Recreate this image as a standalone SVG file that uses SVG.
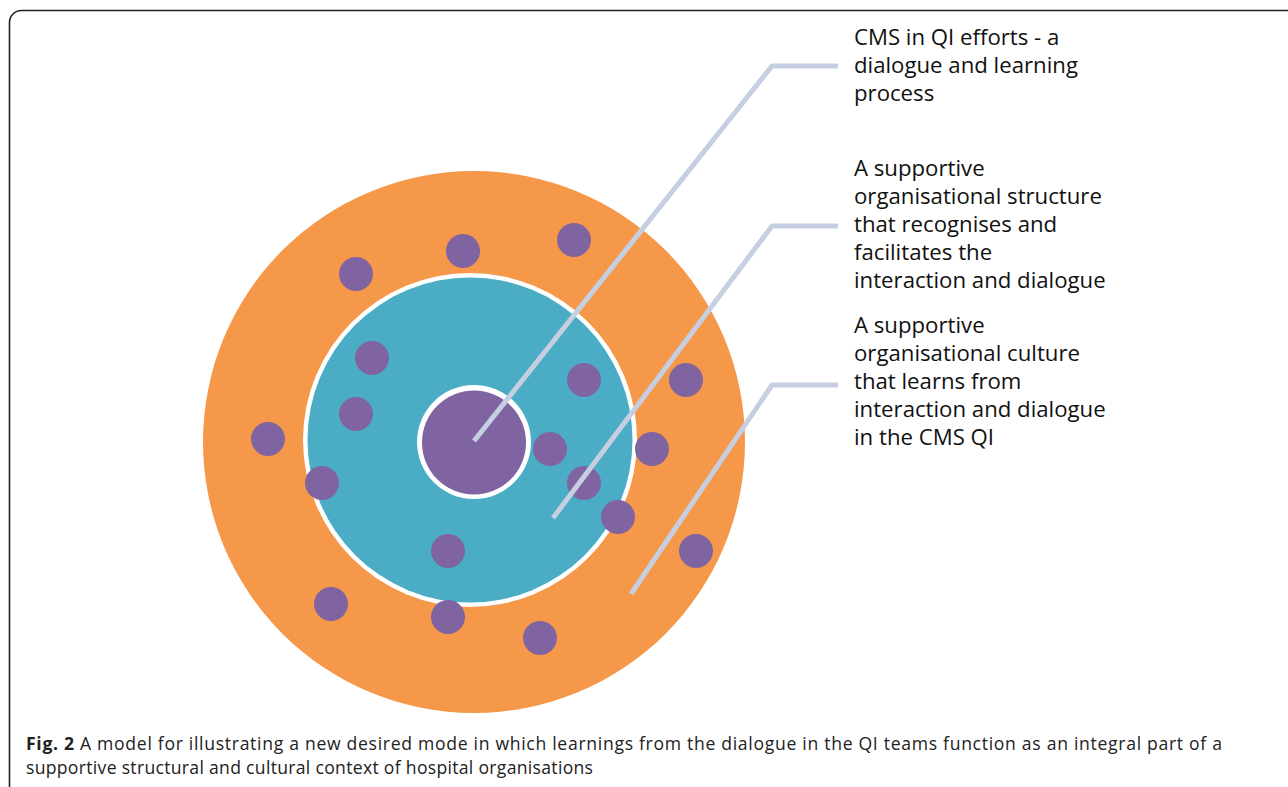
<svg xmlns="http://www.w3.org/2000/svg" width="1288" height="787" viewBox="0 0 1288 787">
<style>
.dot{fill:#8064A2}
.lbl{font-family:"Open Sans","Liberation Sans",sans-serif;font-size:22.2px;fill:#111}
.cap{font-family:"Open Sans","Liberation Sans",sans-serif;font-size:17.6px;fill:#222}
.con{fill:none;stroke:#C5CFE1;stroke-width:5;stroke-linejoin:miter}
</style>
<rect x="0" y="0" width="1288" height="787" fill="#fff"/>
<rect id="frame" x="9.5" y="10.5" width="1300" height="800" rx="12" fill="none" stroke="#222" stroke-width="1.6"/>
<g id="outer-ring">
<circle cx="474" cy="442" r="271" fill="#F69849"/>
</g>
<g id="middle-ring">
<circle cx="470" cy="440" r="167" fill="#fff"/>
<circle cx="470" cy="440" r="162.5" fill="#4AACC5"/>
</g>
<g id="core">
<circle cx="474" cy="442" r="57" fill="#fff"/>
<circle cx="474" cy="442.5" r="52" fill="#8064A2"/>
</g>
<g id="dots">
<circle class="dot" cx="463" cy="251" r="17"/>
<circle class="dot" cx="574" cy="240" r="17"/>
<circle class="dot" cx="356" cy="274" r="17"/>
<circle class="dot" cx="372" cy="358" r="17"/>
<circle class="dot" cx="584" cy="380" r="17"/>
<circle class="dot" cx="686" cy="380" r="17"/>
<circle class="dot" cx="356" cy="414" r="17"/>
<circle class="dot" cx="268" cy="439" r="17"/>
<circle class="dot" cx="550" cy="449" r="17"/>
<circle class="dot" cx="652" cy="449" r="17"/>
<circle class="dot" cx="322" cy="483" r="17"/>
<circle class="dot" cx="584" cy="483" r="17"/>
<circle class="dot" cx="618" cy="517" r="17"/>
<circle class="dot" cx="448" cy="551" r="17"/>
<circle class="dot" cx="696" cy="551" r="17"/>
<circle class="dot" cx="331" cy="604" r="17"/>
<circle class="dot" cx="448" cy="617" r="17"/>
<circle class="dot" cx="540" cy="638" r="17"/>
</g>
<g id="connectors">
<polyline class="con" points="474,441 772,66 838,66"/>
<polyline class="con" points="553,518 772,226 838,226"/>
<polyline class="con" points="631,594 772,385 838,385"/>
</g>
<g id="label-1">
<text class="lbl"><tspan x="854" y="45">CMS in QI efforts - a</tspan><tspan x="854" y="73">dialogue and learning</tspan><tspan x="854" y="101">process</tspan></text>
</g>
<g id="label-2">
<text class="lbl"><tspan x="854" y="176">A supportive</tspan><tspan x="854" y="204">organisational structure</tspan><tspan x="854" y="232">that recognises and</tspan><tspan x="854" y="260">facilitates the</tspan><tspan x="854" y="288">interaction and dialogue</tspan></text>
</g>
<g id="label-3">
<text class="lbl"><tspan x="854" y="333">A supportive</tspan><tspan x="854" y="361">organisational culture</tspan><tspan x="854" y="389">that learns from</tspan><tspan x="854" y="417">interaction and dialogue</tspan><tspan x="854" y="445">in the CMS QI</tspan></text>
</g>
<g id="caption">
<text class="cap" x="26" y="750" textLength="1196"><tspan font-weight="bold">Fig. 2</tspan> A model for illustrating a new desired mode in which learnings from the dialogue in the QI teams function as an integral part of a</text>
<text class="cap" x="26" y="774" textLength="567">supportive structural and cultural context of hospital organisations</text>
</g>
</svg>
